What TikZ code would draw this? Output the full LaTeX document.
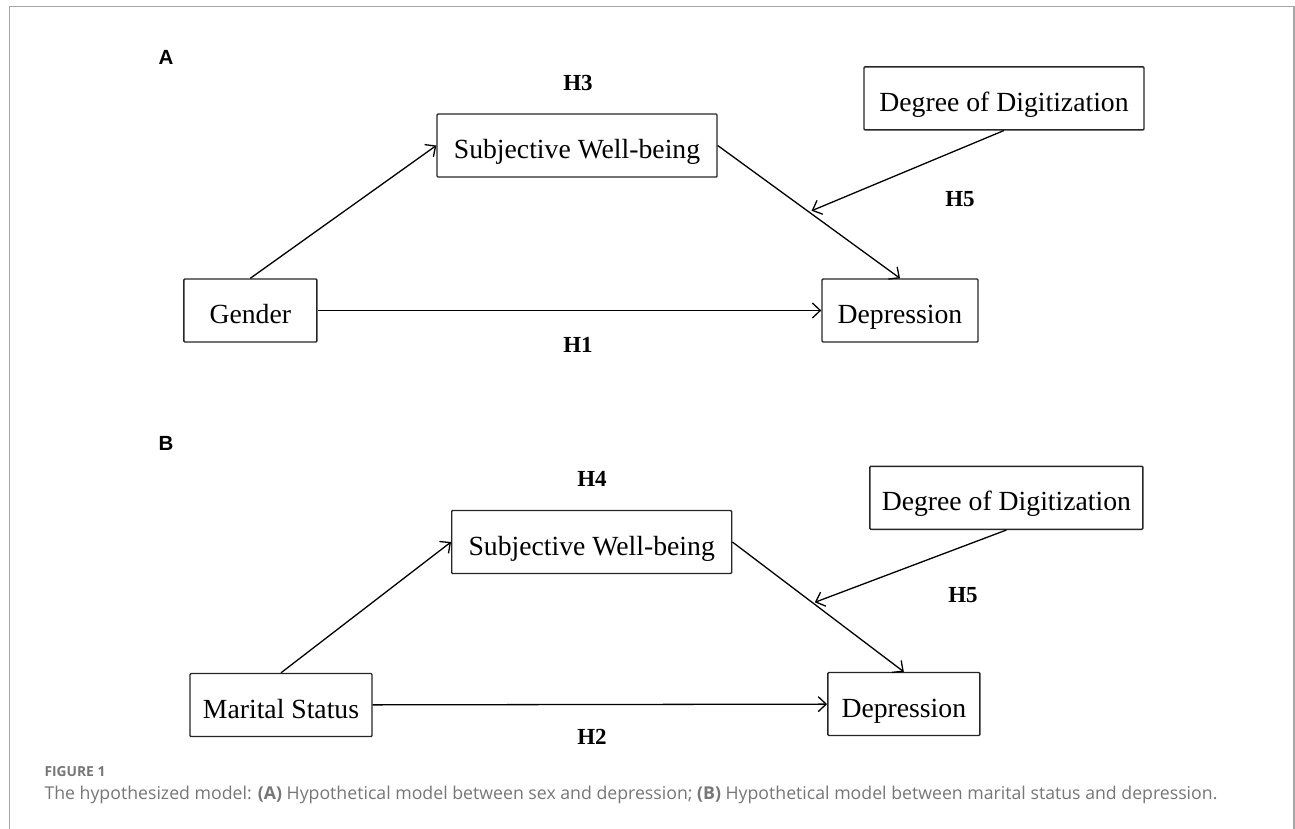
\documentclass[tikz,border=0pt]{standalone}
\usepackage{fontspec}
\setmainfont{Liberation Serif}
\newfontfamily\panelfont{Liberation Sans}
\newfontfamily\capfont{Open Sans}
\usetikzlibrary{arrows.meta,calc}
\definecolor{framegray}{RGB}{165,165,165}
\definecolor{capgray}{RGB}{118,118,118}
\tikzset{
  box/.style={draw=black!85, line width=1.4pt, rounded corners=1pt, minimum height=63pt, inner sep=0pt,
    text height=26pt, text depth=0pt, font=\fontsize{27.7}{30}\selectfont},
  hyp/.style={font=\fontsize{23}{25}\selectfont\bfseries},
  panel/.style={font=\panelfont\fontsize{20.5}{22}\selectfont\bfseries},
  link/.style={-{Straight Barb[length=8pt,width=15pt]}, line width=1.3pt},
}
\begin{document}
\begin{tikzpicture}[x=1pt,y=-1pt]
      \useasboundingbox (0,0) rectangle (1295,828);
      \draw[framegray, line width=1.3pt] (9.3,840) -- (9.3,6.7) -- (1294,6.7) -- (1294,840);
      \draw
        (166,57) node[panel] (labA) {A}
        (577,145.5) node[box, minimum width=280pt] (swbA) {Subjective Well-being}
        (1004,98.3) node[box, minimum width=280pt] (digA) {Degree of Digitization}
        (250.3,310.5) node[box, minimum width=133pt] (gender) {Gender}
        (900,310.5) node[box, minimum width=156pt] (depA) {Depression}
        (578,83) node[hyp] (h3) {H3}
        (960,199) node[hyp] (h5A) {H5}
        (578,345) node[hyp] (h1) {H1};
      \draw
        (166,443) node[panel] (labB) {B}
        (591.7,542) node[box, minimum width=280pt] (swbB) {Subjective Well-being}
        (1006.4,497.8) node[box, minimum width=273pt] (digB) {Degree of Digitization}
        (281,705) node[box, minimum width=182pt] (marital) {Marital Status}
        (903.8,704) node[box, minimum width=152pt] (depB) {Depression}
        (592,479) node[hyp] (h4) {H4}
        (963,595) node[hyp] (h5B) {H5}
        (592,737) node[hyp] (h2) {H2};
      \coordinate (modA) at ($(swbA.east)!0.5!(depA.north)$);
      \coordinate (modB) at ($(swbB.east)!0.47!(depB.north)$);
      \begin{scope}[link]
        \draw (gender.north) to (swbA.west);
        \draw (swbA.east) to (depA.north);
        \draw (gender) to (depA);
        \draw[shorten >=3pt] (digA.south) to (modA);
        \draw (marital.north) to (swbB.west);
        \draw (swbB.east) to (depB.north);
        \draw (marital) to (depB);
        \draw[shorten >=2pt] (digB.south) to (modB);
      \end{scope}
      \node[anchor=west, text=capgray, font=\capfont\bfseries\fontsize{13.8}{16}\selectfont] (fig) at (41,772) {FIGURE 1};
      \node[anchor=west, text=capgray, font=\capfont\fontsize{17.7}{20}\selectfont] (cap) at (41,795)
        {The hypothesized model: \textbf{(A)} Hypothetical model between sex and depression; \textbf{(B)} Hypothetical model between marital status and depression.};
    \end{tikzpicture}
\end{document}
